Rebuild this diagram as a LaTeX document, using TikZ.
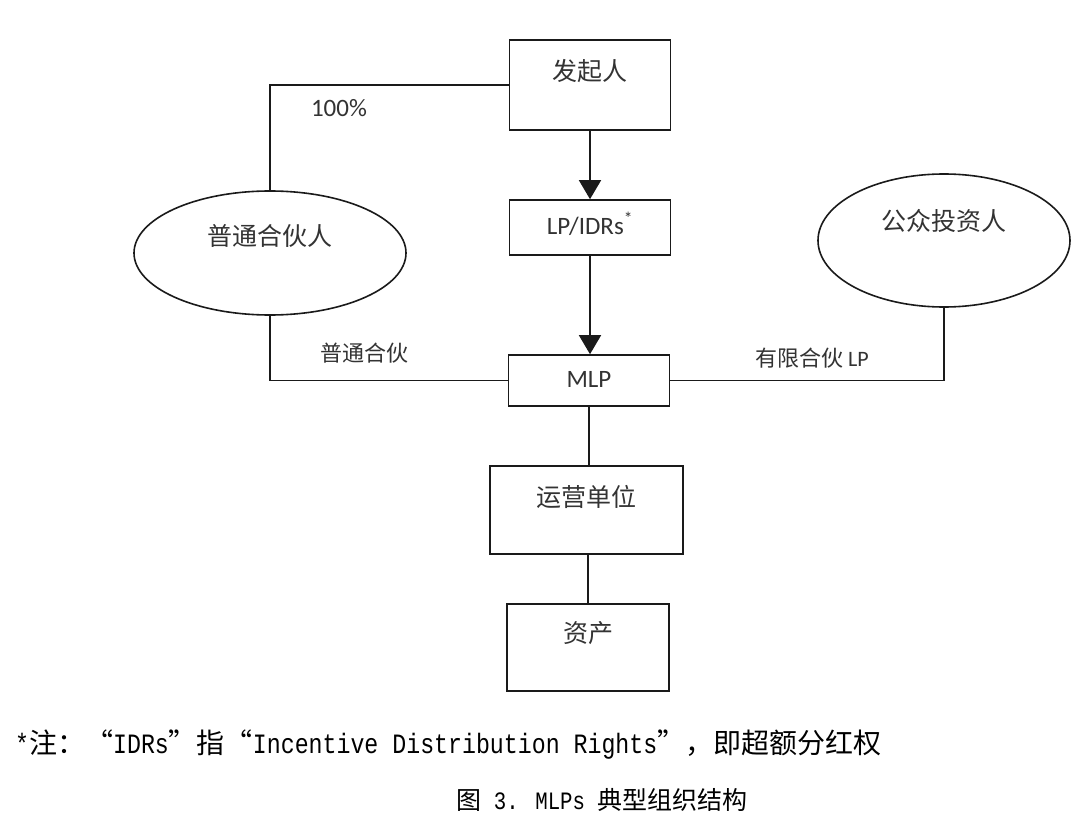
\documentclass[tikz,border=0pt]{standalone}
\usepackage{fontspec}
\setmainfont{Carlito}
\newfontfamily\cjk{Noto Sans CJK SC}
\newfontfamily\notemono[FakeStretch=0.83]{Liberation Mono}
\usetikzlibrary{positioning, calc, arrows.meta, shapes.geometric}
\definecolor{Ink}{HTML}{1A1A1A}
\definecolor{Txt}{HTML}{333333}
\tikzset{
    boxnode/.style={rectangle, draw=Ink, line width=1.6pt, inner sep=0pt, text=Txt, font=\fontsize{25}{30}\selectfont, text height=18pt},
    ovalnode/.style={ellipse, draw=Ink, line width=1.6pt, inner sep=0pt, text=Txt, font=\fontsize{25}{30}\selectfont\cjk, text height=18pt},
    link/.style={line width=1.6pt, draw=Ink},
    arrow/.style={-{Triangle[width=22pt,length=19pt]}, line width=1.6pt, draw=Ink},
    edgelabel/.style={text=Txt, font=\fontsize{22}{26}\selectfont},
    notetext/.style={text=black, inner sep=0pt},
}

\begin{document}
\begin{tikzpicture}[x=1pt, y=-1pt]

    % area del disegno
    \useasboundingbox (0,0) rectangle (1080,832);
    \fill[white] (0,0) rectangle (1080,832);

    % --- colonna centrale ---
    \node[boxnode, minimum width=161pt, minimum height=90pt, text depth=26pt] (sponsor) at (590,85) {\cjk 发起人};
    \node[boxnode, minimum width=161pt, minimum height=55pt, text depth=5pt] (lpidr) at (590,227.5) {LP/IDRs\textsuperscript{*}};
    \node[boxnode, minimum width=161pt, minimum height=51pt, text depth=5pt] (mlp) at (589,380.5) {MLP};
    \node[boxnode, minimum width=193pt, minimum height=88pt, text depth=26pt] (ops) at (586.5,510) {\cjk 运营单位};
    \node[boxnode, minimum width=162pt, minimum height=87pt, text depth=29pt] (asset) at (588,647.5) {\cjk 资产};

    % --- soci ---
    \node[ovalnode, minimum width=272pt, minimum height=124pt, text depth=32pt] (gp) at (270,253) {普通合伙人};
    \node[ovalnode, minimum width=252pt, minimum height=133pt, text depth=37pt] (pub) at (944,240.5) {公众投资人};

    % frecce e linee
    \draw[arrow] (sponsor) -- (lpidr);
    \draw[arrow] (lpidr.south) -- (lpidr.south |- mlp.north);
    \draw[link] (gp.north) |- (sponsor.west);
    \draw[link] (gp.south) |- (mlp.west);
    \draw[link] (pub.south) |- (mlp.east);
    \draw[link] (mlp.south) -- (mlp.south |- ops.north);
    \draw[link] (asset.north |- ops.south) -- (asset.north);

    % etichette
    \node[edgelabel, font=\fontsize{25}{30}\selectfont] (pct) at (339,108) {100\%};
    \node[edgelabel] (gplabel) at (364,353) {\cjk 普通合伙};
    \node[edgelabel] (lplabel) at (812,358) {{\cjk 有限合伙} LP};

    % nota e didascalia
    \node[notetext, anchor=west, font=\fontsize{28}{33}\notemono] (note) at (15,745)
        {*{\cjk 注：“}IDRs{\cjk ”指“}Incentive Distribution Rights{\cjk ”，即超额分红权}};
    \node[notetext, font=\fontsize{25}{30}\notemono] (caption) at (602,800)
        {{\cjk 图} 3. MLPs {\cjk 典型组织结构}};

\end{tikzpicture}
\end{document}
